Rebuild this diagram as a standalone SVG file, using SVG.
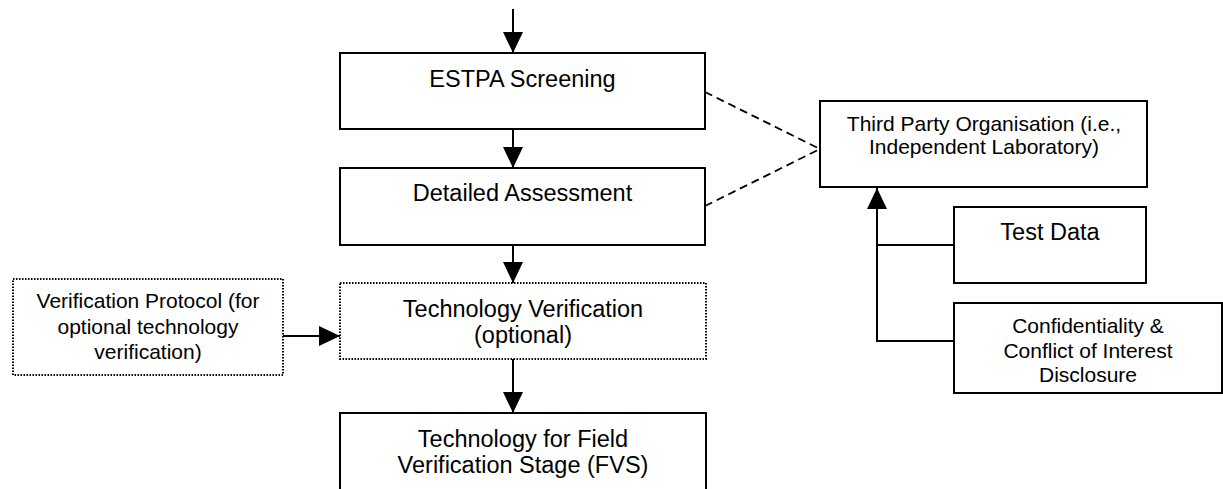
<svg xmlns="http://www.w3.org/2000/svg" width="1223" height="489" viewBox="0 0 1223 489">
<style>
.box{fill:#fff;stroke:#000;stroke-width:2}
.dot{fill:#fff;stroke:#000;stroke-width:2;stroke-dasharray:1.5 1.5}
.t{font-family:"Liberation Sans",Arial,sans-serif;fill:#000;text-anchor:middle}
.big{font-size:23.5px}
.sm{font-size:21px}
.ln{fill:none;stroke:#000;stroke-width:2}
.dash{fill:none;stroke:#000;stroke-width:1.8;stroke-dasharray:8 5}
</style>
<defs>
<marker id="ah" markerUnits="userSpaceOnUse" markerWidth="22" markerHeight="20" refX="21" refY="10" orient="auto" viewBox="0 0 22 20">
<path d="M0,0 L21,10 L0,20 z" fill="#000"/>
</marker>
</defs>
<rect width="1223" height="489" fill="#fff"/>
<g id="connectors">
<line class="ln" x1="513" y1="9" x2="513" y2="53" marker-end="url(#ah)"/>
<line class="ln" x1="513" y1="129" x2="513" y2="168" marker-end="url(#ah)"/>
<line class="ln" x1="513" y1="245" x2="513" y2="283" marker-end="url(#ah)"/>
<line class="ln" x1="513" y1="359" x2="513" y2="413" marker-end="url(#ah)"/>
<line class="ln" x1="283" y1="336" x2="340" y2="336" marker-end="url(#ah)"/>
<line class="dash" x1="705" y1="92" x2="820" y2="149"/>
<line class="dash" x1="705" y1="206" x2="820" y2="149"/>
<polyline class="ln" points="954,341 877,341 877,245 954,245"/>
<line class="ln" x1="877" y1="245" x2="877" y2="188" marker-end="url(#ah)"/>
</g>
<g id="estpa">
<rect class="box" x="340" y="53" width="365" height="76"/>
<text class="t big" x="522.5" y="87">ESTPA Screening</text>
</g>
<g id="detailed">
<rect class="box" x="340" y="168" width="365" height="77"/>
<text class="t big" x="522.5" y="201">Detailed Assessment</text>
</g>
<g id="techver">
<rect class="dot" x="340" y="283" width="366" height="76"/>
<text class="t big" x="523" y="317">Technology Verification</text>
<text class="t big" x="523" y="343">(optional)</text>
</g>
<g id="protocol">
<rect class="dot" x="13" y="279" width="270" height="96"/>
<text class="t sm" x="148" y="308">Verification Protocol (for</text>
<text class="t sm" x="148" y="334">optional technology</text>
<text class="t sm" x="148" y="359">verification)</text>
</g>
<g id="fvs">
<rect class="box" x="340" y="413" width="366" height="80"/>
<text class="t big" x="523" y="447">Technology for Field</text>
<text class="t big" x="523" y="473">Verification Stage (FVS)</text>
</g>
<g id="thirdparty">
<rect class="box" x="820" y="101" width="327" height="86"/>
<text class="t sm" x="984" y="131">Third Party Organisation (i.e.,</text>
<text class="t sm" x="984" y="154">Independent Laboratory)</text>
</g>
<g id="testdata">
<rect class="box" x="954" y="207" width="192" height="76"/>
<text class="t big" x="1050" y="240">Test Data</text>
</g>
<g id="confidentiality">
<rect class="box" x="954" y="303" width="268" height="90"/>
<text class="t sm" x="1088" y="333">Confidentiality &amp;</text>
<text class="t sm" x="1088" y="358">Conflict of Interest</text>
<text class="t sm" x="1088" y="382">Disclosure</text>
</g>
</svg>
